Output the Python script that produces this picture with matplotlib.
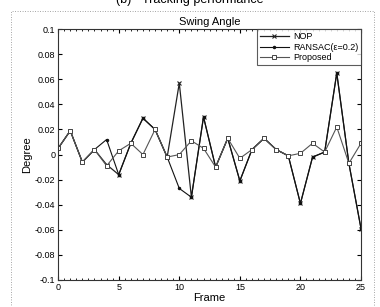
import matplotlib
matplotlib.use("Agg")
import matplotlib.pyplot as plt
from matplotlib.ticker import MultipleLocator
from matplotlib.patches import Rectangle

plt.rcParams['font.family'] = ['Liberation Sans', 'DejaVu Sans']

frames = list(range(26))
nop = [0.005, 0.019, -0.006, 0.004, -0.008, -0.016, 0.009, 0.029, 0.020, -0.002,
       0.057, -0.034, 0.030, -0.010, 0.013, -0.021, 0.004, 0.013, 0.004, -0.001,
       -0.039, -0.002, 0.002, 0.065, -0.007, -0.059]
ransac = [0.005, 0.019, -0.006, 0.004, 0.012, -0.016, 0.009, 0.029, 0.020, -0.002,
          -0.027, -0.034, 0.030, -0.010, 0.013, -0.021, 0.004, 0.013, 0.004, -0.001,
          -0.039, -0.002, 0.002, 0.065, -0.007, -0.059]
proposed = [0.005, 0.019, -0.006, 0.004, -0.009, 0.003, 0.009, 0.000, 0.020, -0.002,
            0.000, 0.011, 0.005, -0.010, 0.013, -0.003, 0.004, 0.013, 0.004, -0.001,
            0.001, 0.009, 0.002, 0.022, -0.007, 0.009]

fig = plt.figure(figsize=(3.8, 3.07), dpi=100)
ax = fig.add_axes([0.153, 0.088, 0.797, 0.817])

ax.plot(frames, nop, color='#222222', lw=0.9, marker='x', ms=3.5, mew=0.8, label='NOP')
ax.plot(frames, ransac, color='#111111', lw=0.8, marker='.', ms=3, label='RANSAC(\u03b5=0.2)')
ax.plot(frames, proposed, color='#555555', lw=0.8, marker='s', ms=3.5, mfc='white',
        mec='#444444', mew=0.7, label='Proposed')

ax.set_xlim(0, 25)
ax.set_ylim(-0.1, 0.1)
ax.xaxis.set_major_locator(MultipleLocator(5))
ax.xaxis.set_minor_locator(MultipleLocator(0.5))
yt = [round(-0.1 + 0.02 * i, 2) for i in range(11)]
ax.set_yticks(yt)
ax.set_yticklabels(['0' if v == 0 else ('%g' % v) for v in yt])
ax.tick_params(which='both', direction='in', top=True, right=True, labelsize=6.5, pad=2)
ax.tick_params(which='major', length=3)
ax.tick_params(which='minor', length=1.5)
for s in ax.spines.values():
    s.set_linewidth(0.8)
    s.set_color('#333333')

ax.set_title('Swing Angle', fontsize=8, pad=3)
ax.set_xlabel('Frame', fontsize=8, labelpad=1)
ax.set_ylabel('Degree', fontsize=8, labelpad=2)

leg = ax.legend(loc='upper right', fontsize=6.5, frameon=True, fancybox=False,
                borderaxespad=0, handlelength=3.2, borderpad=0.3, labelspacing=0.2,
                handletextpad=0.5)
leg.get_frame().set_edgecolor('#333333')
leg.get_frame().set_linewidth(0.8)

fig.text(0.5, 1.0, '(b) - Tracking performance', ha='center', va='center', fontsize=9)
fig.patches.append(Rectangle((0.03, 0.0), 0.955, 0.965, transform=fig.transFigure,
                             fill=False, ls=(0, (1, 2)), lw=0.6, ec='#888888'))

fig.savefig('out.png', dpi=100)
